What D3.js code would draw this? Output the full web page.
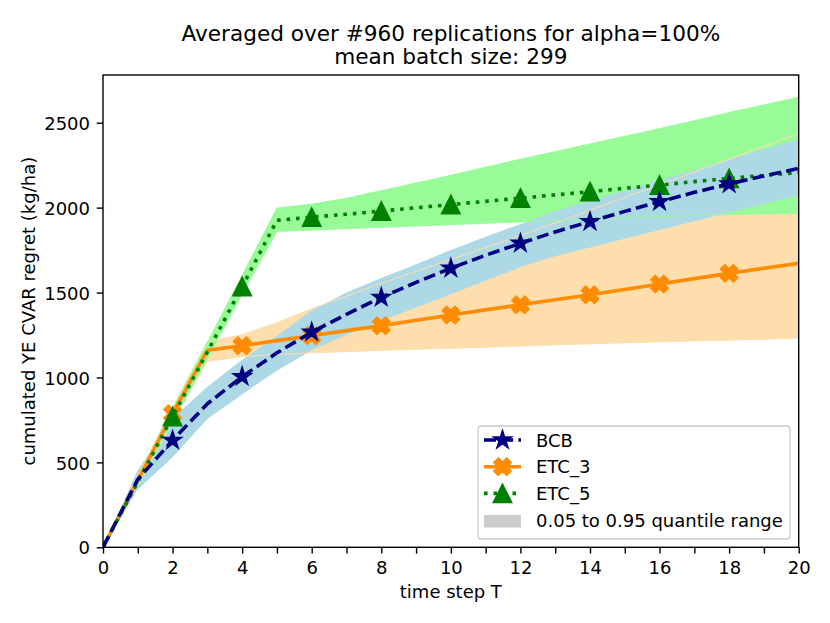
<!DOCTYPE html>
<html>
<head>
<meta charset="utf-8">
<script src="https://cdn.jsdelivr.net/npm/d3@7"></script>
<style>
    body { margin: 0; background: #fff; }
    text { font-family: "DejaVu Sans", sans-serif; fill: #000; }
</style>
</head>
<body>
<div class="chart"></div>
<script>
// time steps and per-step values
const steps = [0, 1, 2, 3, 4, 5, 6, 7, 8, 9, 10, 11, 12, 13, 14, 15, 16, 17, 18, 19, 20]

const bcbMean = [0, 400, 630, 845, 1005, 1145, 1267, 1372, 1471, 1560, 1643, 1720, 1790, 1857, 1918, 1978, 2035, 2090, 2140, 2186, 2231]
const bcbLow  = [0, 340, 530, 755, 900, 1040, 1160, 1250, 1333, 1412, 1490, 1570, 1650, 1714, 1765, 1817, 1868, 1920, 1971, 2022, 2072]
const bcbHigh = [0, 455, 760, 946, 1105, 1245, 1395, 1500, 1585, 1667, 1750, 1828, 1904, 1978, 2040, 2100, 2162, 2222, 2284, 2344, 2402]

const etc3Mean = [0, 395, 787, 1160, 1187, 1217, 1246, 1276, 1305, 1337, 1368, 1398, 1428, 1458, 1487, 1518, 1550, 1582, 1613, 1643, 1672]
const etc3Low  = [0, 370, 745, 1095, 1122, 1135, 1145, 1152, 1160, 1166, 1172, 1178, 1185, 1192, 1198, 1204, 1210, 1215, 1220, 1225, 1232]
const etc3High = [0, 420, 825, 1212, 1252, 1322, 1405, 1480, 1555, 1625, 1695, 1765, 1835, 1910, 1985, 2060, 2135, 2210, 2285, 2360, 2437]

const etc5Mean = [0, 385, 770, 1150, 1535, 1925, 1944, 1961, 1980, 1999, 2018, 2037, 2056, 2075, 2094, 2114, 2133, 2153, 2172, 2190, 2206]
const etc5Low  = [0, 365, 735, 1110, 1490, 1860, 1868, 1876, 1884, 1892, 1900, 1908, 1916, 1924, 1932, 1940, 1947, 1954, 1959, 1963, 1967]
const etc5High = [0, 410, 815, 1205, 1600, 1997, 2020, 2055, 2100, 2145, 2190, 2238, 2285, 2330, 2375, 2420, 2465, 2512, 2560, 2605, 2650]

const markerSteps = [2, 4, 6, 8, 10, 12, 14, 16, 18]
const xTicks = [0, 1, 2, 3, 4, 5, 6, 7, 8, 9, 10, 11, 12, 13, 14, 15, 16, 17, 18, 19, 20]
const yTicks = [0, 500, 1000, 1500, 2000, 2500]
const legendNames = ['BCB', 'ETC_3', 'ETC_5', '0.05 to 0.95 quantile range']

const width = 830
const height = 623
const plotLeft = 103, plotRight = 798.7, plotTop = 75, plotBottom = 547.3

const x = d3.scaleLinear().domain([0, 20]).range([plotLeft, plotRight])
const y = d3.scaleLinear().domain([0, 2781]).range([plotBottom, plotTop])

const svg = d3.select('.chart').append('svg')
    .attr('width', width)
    .attr('height', height)

svg.append('defs').append('clipPath')
    .attr('id', 'plot-clip')
    .append('rect')
    .attr('x', plotLeft).attr('y', plotTop)
    .attr('width', plotRight - plotLeft).attr('height', plotBottom - plotTop)

const plot = svg.append('g').attr('clip-path', 'url(#plot-clip)')

// marker shapes, sizes in px (markersize 10pt)
const ms = 18
function starPath(r) {
    const pts = []
    for (let k = 0; k < 10; k++) {
        const a = -Math.PI / 2 + k * Math.PI / 5
        const rr = k % 2 ? r * 0.381966 : r
        pts.push([rr * Math.cos(a), rr * Math.sin(a)])
    }
    return 'M' + pts.map(p => p.join(',')).join('L') + 'Z'
}
function triPath(s) {
    const h = s / 2
    return `M0,${-h}L${-h},${h}L${h},${h}Z`
}
function xPath(s) {
    const plus = [[-1, -3], [1, -3], [1, -1], [3, -1], [3, 1], [1, 1], [1, 3], [-1, 3], [-1, 1], [-3, 1], [-3, -1], [-1, -1]]
    const k = s / 6 / Math.SQRT2
    return 'M' + plus.map(([a, b]) => [(a - b) * k, (a + b) * k].join(',')).join('L') + 'Z'
}

const series = [
    { name: 'ETC_3', mean: etc3Mean, low: etc3Low, high: etc3High, color: '#ff8c00', band: '#ffdead', dash: null, marker: xPath(ms) },
    { name: 'ETC_5', mean: etc5Mean, low: etc5Low, high: etc5High, color: '#008000', band: '#98fb98', dash: '3.6,5.9', marker: triPath(ms) },
    { name: 'BCB', mean: bcbMean, low: bcbLow, high: bcbHigh, color: '#000080', band: '#add8e6', dash: '12,5.2', marker: starPath(ms / 2) }
]

// bands
const area = (s) => d3.area()
    .x((d, i) => x(steps[i]))
    .y0((d, i) => y(s.low[i]))
    .y1((d, i) => y(s.high[i]))
series.forEach(s => {
    plot.append('path')
        .datum(steps)
        .attr('d', area(s))
        .attr('fill', s.band)
})
// band edges show through faintly
series.slice(0, 2).forEach(s => {
    ['low', 'high'].forEach(k => {
        plot.append('path')
            .datum(s[k])
            .attr('d', d3.line().x((d, i) => x(steps[i])).y(d => y(d)))
            .attr('fill', 'none')
            .attr('stroke', s.band)
            .attr('stroke-width', 1)
    })
})

// mean lines and markers
series.forEach(s => {
    plot.append('path')
        .datum(s.mean)
        .attr('d', d3.line().x((d, i) => x(steps[i])).y(d => y(d)))
        .attr('fill', 'none')
        .attr('stroke', s.color)
        .attr('stroke-width', 3.6)
        .attr('stroke-linejoin', 'round')
        .attr('stroke-dasharray', s.dash)
    plot.selectAll(null)
        .data(markerSteps)
        .enter()
        .append('path')
        .attr('d', s.marker)
        .attr('transform', t => `translate(${x(t)},${y(s.mean[steps.indexOf(t)])})`)
        .attr('fill', s.color)
        .attr('stroke', s.color)
        .attr('stroke-width', 1.8)
        .attr('stroke-linejoin', 'miter')
})

// axes
const xAxis = svg.append('g')
    .attr('transform', `translate(0,${plotBottom})`)
    .call(d3.axisBottom(x).tickValues(xTicks).tickSize(6.3).tickSizeOuter(0)
        .tickFormat(d => d % 2 === 0 ? d : ''))
xAxis.selectAll('text').attr('y', 26.7).attr('dy', null).style('font-size', '18px')
const yAxis = svg.append('g')
    .attr('transform', `translate(${plotLeft},0)`)
    .call(d3.axisLeft(y).tickValues(yTicks).tickSize(6.3).tickSizeOuter(0)
        .tickFormat(d3.format('d')))
yAxis.selectAll('text').attr('x', -13).attr('dy', '0.37em').style('font-size', '18px')
svg.selectAll('.domain').remove()
svg.selectAll('.tick line').attr('stroke', '#000').attr('stroke-width', 1.4)
svg.selectAll('g[font-family]').attr('font-family', null)

svg.append('rect')
    .attr('x', plotLeft).attr('y', plotTop)
    .attr('width', plotRight - plotLeft).attr('height', plotBottom - plotTop)
    .attr('fill', 'none')
    .attr('stroke', '#000')
    .attr('stroke-width', 1.4)

// titles and labels
svg.append('text')
    .attr('x', (plotLeft + plotRight) / 2).attr('y', 40.5)
    .attr('text-anchor', 'middle')
    .style('font-size', '21.6px')
    .text('Averaged over #960 replications for alpha=100%')
svg.append('text')
    .attr('x', (plotLeft + plotRight) / 2).attr('y', 64)
    .attr('text-anchor', 'middle')
    .style('font-size', '21.6px')
    .text('mean batch size: 299')
svg.append('text')
    .attr('x', (plotLeft + plotRight) / 2).attr('y', 598)
    .attr('text-anchor', 'middle')
    .style('font-size', '18px')
    .text('time step T')
svg.append('text')
    .attr('transform', `translate(35,${(plotTop + plotBottom) / 2}) rotate(-90)`)
    .attr('text-anchor', 'middle')
    .style('font-size', '18px')
    .text('cumulated YE CVAR regret (kg/ha)')

// legend
const legend = svg.append('g').attr('transform', 'translate(478,426)')
legend.append('rect')
    .attr('width', 312).attr('height', 113)
    .attr('rx', 3)
    .attr('fill', '#fff').attr('fill-opacity', 0.8)
    .attr('stroke', '#cccccc').attr('stroke-width', 1.4)
const legendSeries = [series[2], series[0], series[1]]
legendSeries.forEach((s, i) => {
    const cy = 14 + i * 26.7
    legend.append('line')
        .attr('x1', 6).attr('x2', 43).attr('y1', cy).attr('y2', cy)
        .attr('stroke', s.color).attr('stroke-width', 3.6)
        .attr('stroke-dasharray', s.dash)
    legend.append('path')
        .attr('d', s.marker)
        .attr('transform', `translate(24.5,${cy})`)
        .attr('fill', s.color).attr('stroke', s.color).attr('stroke-width', 1.8)
})
legend.append('rect')
    .attr('x', 6).attr('y', 89).attr('width', 37).attr('height', 12.5)
    .attr('fill', '#cccccc')
legendNames.forEach((name, i) => {
    legend.append('text')
        .attr('x', 58).attr('y', 14 + i * 26.7 + 6.6)
        .style('font-size', '18px')
        .text(name)
})
</script>
</body>
</html>
